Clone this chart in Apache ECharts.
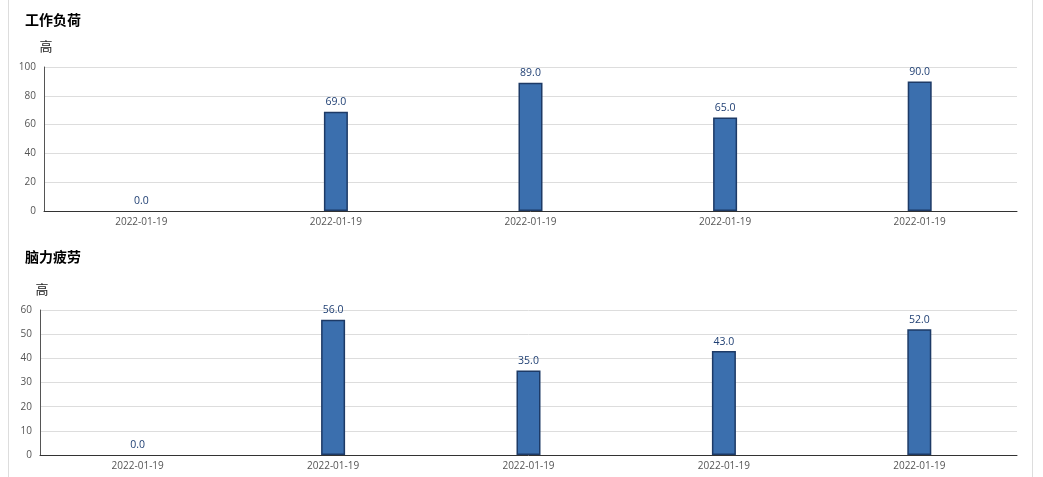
<!DOCTYPE html>
<html>
<head>
<meta charset="utf-8">
<script src="https://cdn.jsdelivr.net/npm/echarts@6/dist/echarts.min.js"></script>
<style>
html,body{margin:0;padding:0;background:#fff;}
#frame{position:absolute;left:8px;top:0;width:1023px;height:477px;border-left:1px solid #ddd;border-right:1px solid #ddd;}
#c{position:absolute;left:0;top:0;width:1043px;height:477px;}
</style>
</head>
<body>
<div id="frame"></div>
<div id="c"></div>
<script>
const categories = ['2022-01-19','2022-01-19','2022-01-19','2022-01-19','2022-01-19'];
const workload = [0, 69, 89, 65, 90];
const fatigue = [0, 56, 35, 43, 52];
const titles = ['工作负荷', '脑力疲劳'];
const yName = '高';

const chart = echarts.init(document.getElementById('c'));
const barStyle = {color:'#3b6fae', borderColor:'#1d3a66', borderWidth:1.5};
const labelStyle = {show:true, position:'top', distance:4, color:'#1f3f73', fontSize:10.5,
  fontFamily:'"Open Sans", sans-serif', formatter: p => p.value.toFixed(1)};
const axisLabel = {color:'#555', fontSize:10, fontFamily:'"Open Sans", sans-serif'};
const toItems = arr => arr.map(v => v === 0 ? {value:v, itemStyle:{borderWidth:0}} : v);
function yAxis(idx, max, interval){
  return {type:'value', gridIndex:idx, min:0, max:max, interval:interval,
    name:yName, nameGap:14, nameTextStyle:{color:'#222', fontSize:13, fontFamily:'"Noto Sans CJK SC"', align:'center', padding:[0,0,0,4]},
    axisLine:{show:true, lineStyle:{color:'#555', width:1}}, axisTick:{show:false},
    axisLabel:Object.assign({margin:8}, axisLabel),
    splitLine:{lineStyle:{color:'#ddd'}}};
}
function xAxis(idx){
  return {type:'category', gridIndex:idx, data:categories,
    axisLine:{lineStyle:{color:'#333', width:1}}, axisTick:{show:false},
    axisLabel:Object.assign({margin:6}, axisLabel)};
}
chart.setOption({
  animation:false,
  title:[
    {text:titles[0], left:20, top:8, textStyle:{fontSize:14, fontWeight:'bold', color:'#000', fontFamily:'"Noto Sans CJK SC"'}},
    {text:titles[1], left:20, top:245, textStyle:{fontSize:14, fontWeight:'bold', color:'#000', fontFamily:'"Noto Sans CJK SC"'}}
  ],
  grid:[
    {left:44, right:26, top:67, height:144},
    {left:40, right:26, top:310, height:145}
  ],
  xAxis:[xAxis(0), xAxis(1)],
  yAxis:[yAxis(0,100,20), yAxis(1,60,10)],
  series:[
    {type:'bar', xAxisIndex:0, yAxisIndex:0, data:toItems(workload), barWidth:24, itemStyle:barStyle, label:labelStyle},
    {type:'bar', xAxisIndex:1, yAxisIndex:1, data:toItems(fatigue), barWidth:24, itemStyle:barStyle, label:labelStyle}
  ]
});
</script>
</body>
</html>
